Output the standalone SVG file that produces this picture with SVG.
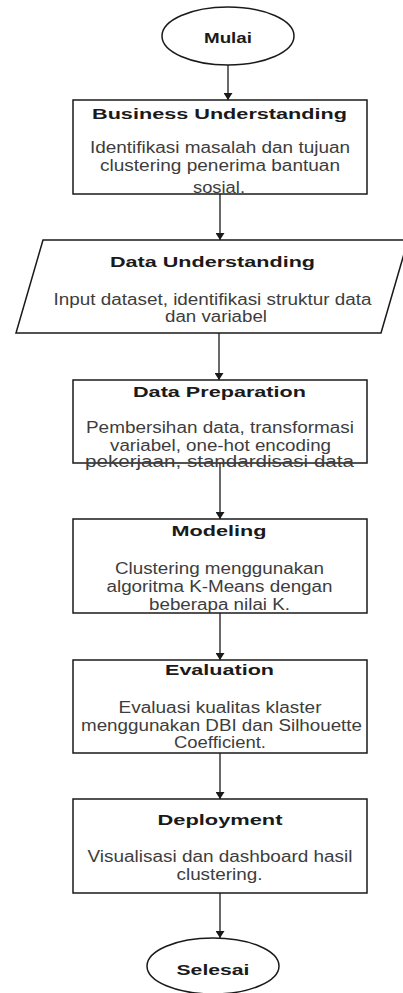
<svg xmlns="http://www.w3.org/2000/svg" width="403" height="993" viewBox="0 0 403 993">
<style>
.shape{fill:#ffffff;stroke:#1a1a1a;stroke-width:1.5}
.edge{fill:none;stroke:#1a1a1a;stroke-width:1.3}
.title{font-family:"Liberation Sans",Arial,sans-serif;font-weight:bold;font-size:15.5px;fill:#1a1a1a;text-anchor:middle}
.body{font-family:"Liberation Sans",Arial,sans-serif;font-size:16px;fill:#3d3d3d;text-anchor:middle}
</style>
<defs>
<marker id="arrow" markerUnits="userSpaceOnUse" markerWidth="9" markerHeight="9" refX="7" refY="4.5" orient="auto">
<path d="M0,0 L7,4.5 L0,9 z" fill="#1a1a1a"/>
</marker>
</defs>
<rect width="403" height="993" fill="#ffffff"/>
<g id="connectors">
<line class="edge" x1="228" y1="65" x2="228" y2="100" marker-end="url(#arrow)"/>
<line class="edge" x1="220" y1="194" x2="220" y2="240" marker-end="url(#arrow)"/>
<line class="edge" x1="219" y1="333" x2="219" y2="380" marker-end="url(#arrow)"/>
<line class="edge" x1="220" y1="463" x2="220" y2="519" marker-end="url(#arrow)"/>
<line class="edge" x1="220" y1="613" x2="220" y2="660" marker-end="url(#arrow)"/>
<line class="edge" x1="220" y1="753" x2="220" y2="799" marker-end="url(#arrow)"/>
<line class="edge" x1="220" y1="893" x2="220" y2="938" marker-end="url(#arrow)"/>
</g>
<g id="mulai">
<ellipse class="shape" cx="228" cy="36" rx="66" ry="29"/>
<text class="title" x="228" y="43" textLength="48" lengthAdjust="spacingAndGlyphs">Mulai</text>
</g>
<g id="business-understanding">
<rect class="shape" x="73" y="100" width="294" height="94"/>
<text class="title" x="219.5" y="118.5" textLength="255" lengthAdjust="spacingAndGlyphs">Business Understanding</text>
<text class="body" x="220" y="153" textLength="260" lengthAdjust="spacingAndGlyphs">Identifikasi masalah dan tujuan</text>
<text class="body" x="220" y="171" textLength="240" lengthAdjust="spacingAndGlyphs">clustering penerima bantuan</text>
<text class="body" x="219" y="193" textLength="52" lengthAdjust="spacingAndGlyphs">sosial.</text>
</g>
<g id="data-understanding">
<polygon class="shape" points="43,240 408,240 381,333 16,333"/>
<text class="title" x="212.5" y="267" textLength="205" lengthAdjust="spacingAndGlyphs">Data Understanding</text>
<text class="body" x="212.5" y="305" textLength="318" lengthAdjust="spacingAndGlyphs">Input dataset, identifikasi struktur data</text>
<text class="body" x="216" y="322" textLength="102" lengthAdjust="spacingAndGlyphs">dan variabel</text>
</g>
<g id="data-preparation">
<rect class="shape" x="73" y="380" width="294" height="83"/>
<text class="title" x="219.5" y="397" textLength="173" lengthAdjust="spacingAndGlyphs">Data Preparation</text>
<text class="body" x="220" y="433" textLength="268" lengthAdjust="spacingAndGlyphs">Pembersihan data, transformasi</text>
<text class="body" x="220.5" y="451" textLength="221" lengthAdjust="spacingAndGlyphs">variabel, one-hot encoding</text>
<text class="body" x="219.5" y="467" textLength="269" lengthAdjust="spacingAndGlyphs">pekerjaan, standardisasi data</text>
</g>
<g id="modeling">
<rect class="shape" x="73" y="519" width="294" height="94"/>
<text class="title" x="219" y="536" textLength="95" lengthAdjust="spacingAndGlyphs">Modeling</text>
<text class="body" x="219.5" y="574" textLength="209" lengthAdjust="spacingAndGlyphs">Clustering menggunakan</text>
<text class="body" x="219.5" y="592" textLength="226" lengthAdjust="spacingAndGlyphs">algoritma K-Means dengan</text>
<text class="body" x="219.5" y="610" textLength="141" lengthAdjust="spacingAndGlyphs">beberapa nilai K.</text>
</g>
<g id="evaluation">
<rect class="shape" x="73" y="660" width="294" height="93"/>
<text class="title" x="219.5" y="675" textLength="109" lengthAdjust="spacingAndGlyphs">Evaluation</text>
<text class="body" x="220" y="713" textLength="203" lengthAdjust="spacingAndGlyphs">Evaluasi kualitas klaster</text>
<text class="body" x="221.5" y="731" textLength="281" lengthAdjust="spacingAndGlyphs">menggunakan DBI dan Silhouette</text>
<text class="body" x="220" y="748" textLength="92" lengthAdjust="spacingAndGlyphs">Coefficient.</text>
</g>
<g id="deployment">
<rect class="shape" x="73" y="799" width="294" height="94"/>
<text class="title" x="220" y="825" textLength="125" lengthAdjust="spacingAndGlyphs">Deployment</text>
<text class="body" x="220" y="862" textLength="265" lengthAdjust="spacingAndGlyphs">Visualisasi dan dashboard hasil</text>
<text class="body" x="219.5" y="880" textLength="86" lengthAdjust="spacingAndGlyphs">clustering.</text>
</g>
<g id="selesai">
<ellipse class="shape" cx="213" cy="966" rx="66" ry="28"/>
<text class="title" x="213" y="975" textLength="73" lengthAdjust="spacingAndGlyphs">Selesai</text>
</g>
</svg>
